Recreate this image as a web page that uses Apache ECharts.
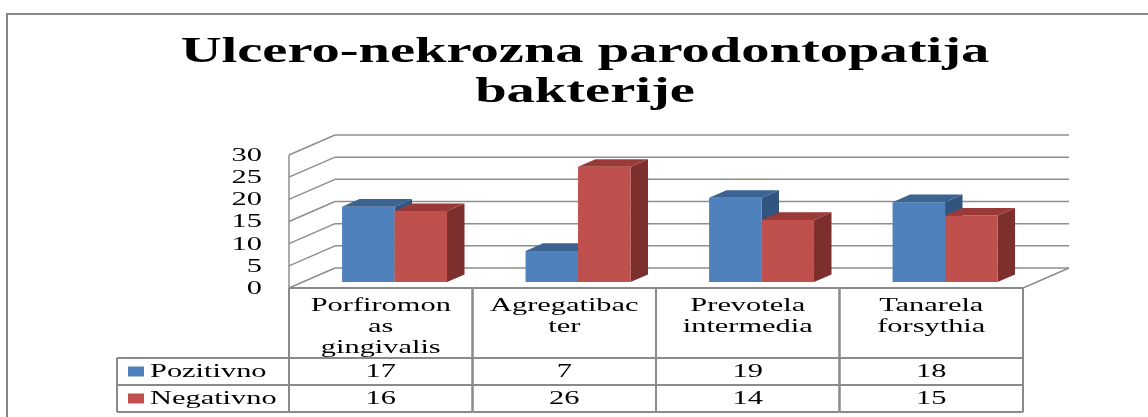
<!DOCTYPE html>
<html>
<head>
<meta charset="utf-8">
<script src="https://cdn.jsdelivr.net/npm/echarts@6/dist/echarts.min.js"></script>
<style>
html,body{margin:0;padding:0;background:#fff;}
#chart{width:1148px;height:417px;}
</style>
</head>
<body>
<div id="chart"></div>
<script>
// ---- data ----
const categories = ['Porfiromonas gingivalis', 'Agregatibacter', 'Prevotela intermedia', 'Tanarela forsythia'];
const categoryLabels = ['Porfiromon\nas\ngingivalis', 'Agregatibac\nter', 'Prevotela\nintermedia', 'Tanarela\nforsythia'];
const seriesNames = ['Pozitivno', 'Negativno'];
const positive = [17, 7, 19, 18];
const negative = [16, 26, 14, 15];
const yTicks = [0, 5, 10, 15, 20, 25, 30];
const titleText = 'Ulcero-nekrozna parodontopatija\nbakterije';

// ---- style ----
const SERIF = "'Liberation Serif', 'Times New Roman', Times, serif";
const SX = 1.6;            // horizontal text stretch of the original
const DX = 46, DY = -20;   // 3D depth vector
const F0 = 0.30, F1 = 0.68; // bar depth range (fraction of depth)
const GRID = '#8e8e8e';
const TABLE = '#8a8a8a';
const COLORS = [
  {front: '#4F81BD', top: '#3B6493', side: '#32557F'},
  {front: '#C0504D', top: '#9A3A38', side: '#7D2F2D'}
];

function line(x1, y1, x2, y2, color, w) {
  return {type: 'line', shape: {x1, y1, x2, y2}, style: {stroke: color, lineWidth: w}, silent: true};
}
function text(str, x, y, size, align, vAlign, lh) {
  return {type: 'text', x: x, y: y, scaleX: SX, silent: true,
    style: {text: str, x: 0, y: 0, font: size + 'px ' + SERIF, fill: '#000', align: align, verticalAlign: vAlign, lineHeight: lh || undefined}};
}

function wallRender(params, api) {
  const cs = params.coordSys;
  const L = cs.x, R = cs.x + cs.width;
  const t = api.value(1);
  const yF = api.coord([0, t])[1];
  const y0 = api.coord([0, 0])[1];
  const children = [
    line(L, yF, L + DX, yF + DY, GRID, 1.5),
    line(L + DX, yF + DY, R + DX, yF + DY, GRID, 1.5),
    text(String(t), L - 27, yF + 1, 19, 'right', 'middle')
  ];
  if (t === 0) {
    children.push(line(R, y0, R + DX, y0 + DY, GRID, 1.5));
    children.push(line(L, y0, L, cs.y, GRID, 1.5));
  }
  return {type: 'group', children};
}

function barRender(side) {
  return function (params, api) {
    const i = api.value(0), v = api.value(1);
    const c = api.coord([i, v]);
    const b = api.coord([i, 0]);
    const band = api.size([1, 0])[0];
    const w = band * 0.286;
    const ox = DX * F0, oy = DY * F0;
    const dx = DX * (F1 - F0), dy = DY * (F1 - F0);
    const left = (side === 0 ? c[0] - w : c[0]) + ox;
    const right = left + w;
    const top = c[1] + oy, bottom = b[1] + oy;
    const col = COLORS[side];
    return {type: 'group', children: [
      {type: 'polygon', shape: {points: [[right, top], [right + dx, top + dy], [right + dx, bottom + dy], [right, bottom]]}, style: {fill: col.side}},
      {type: 'rect', shape: {x: left, y: top, width: w, height: bottom - top}, style: {fill: col.front}},
      {type: 'polygon', shape: {points: [[left, top], [left + dx, top + dy], [right + dx, top + dy], [right, top]]}, style: {fill: col.top}}
    ]};
  };
}

function tableRender(params, api) {
  const i = params.dataIndex;
  const p = api.coord([i, 0]);
  const band = api.size([1, 0])[0];
  const cx = p[0], y0 = p[1];
  const left = cx - band / 2, right = cx + band / 2;
  const yH = y0 + 70, y1 = yH + 27, y2 = y1 + 27;
  const ch = [
    line(left, y0, right, y0, TABLE, 2),
    line(left, yH, right, yH, TABLE, 2),
    line(left, y1, right, y1, TABLE, 2),
    line(left, y2, right, y2, TABLE, 2),
    line(left, y0, left, y2, TABLE, 2),
    line(right, y0, right, y2, TABLE, 2),
    text(categoryLabels[i], cx, y0 + 8, 19, 'center', 'top', 21),
    text(String(positive[i]), cx, (yH + y1) / 2 + 1, 19, 'center', 'middle'),
    text(String(negative[i]), cx, (y1 + y2) / 2 + 1, 19, 'center', 'middle')
  ];
  if (i === 0) {
    const lx = 117;
    ch.push(line(lx, yH, left, yH, TABLE, 2));
    ch.push(line(lx, y1, left, y1, TABLE, 2));
    ch.push(line(lx, y2, left, y2, TABLE, 2));
    ch.push(line(lx, yH, lx, y2, TABLE, 2));
    const rows = [(yH + y1) / 2, (y1 + y2) / 2];
    seriesNames.forEach(function (n, k) {
      ch.push({type: 'rect', silent: true, shape: {x: 128, y: rows[k] - 5, width: 16, height: 10}, style: {fill: COLORS[k].front}});
      ch.push(text(n, 150, rows[k] + 1, 19, 'left', 'middle'));
    });
  }
  return {type: 'group', children: ch};
}

const chart = echarts.init(document.getElementById('chart'), null, {renderer: 'canvas'});
chart.setOption({
  animation: false,
  backgroundColor: '#fff',
  grid: {left: 289, top: 155, width: 734, height: 133},
  xAxis: {type: 'category', data: categories, show: false},
  yAxis: {type: 'value', min: 0, max: 30, interval: 5, show: false},
  graphic: [
    {type: 'rect', shape: {x: 7, y: 14, width: 1160, height: 420}, style: {fill: 'none', stroke: '#878787', lineWidth: 2}, silent: true},
    {type: 'text', x: 585, y: 73, scaleX: 1.57, silent: true,
      style: {text: titleText, x: 0, y: 0, font: 'bold 36px ' + SERIF, fill: '#000', align: 'center', verticalAlign: 'middle', lineHeight: 40}}
  ],
  series: [
    {type: 'custom', name: 'walls', data: yTicks.map(function (t) { return [0, t]; }), renderItem: wallRender, silent: true, z: 1},
    {type: 'custom', name: seriesNames[0], data: positive.map(function (v, i) { return [i, v]; }), renderItem: barRender(0), z: 2},
    {type: 'custom', name: seriesNames[1], data: negative.map(function (v, i) { return [i, v]; }), renderItem: barRender(1), z: 3},
    {type: 'custom', name: 'table', data: categories.map(function (c, i) { return [i, 0]; }), renderItem: tableRender, silent: true, z: 4}
  ]
});
</script>
</body>
</html>
